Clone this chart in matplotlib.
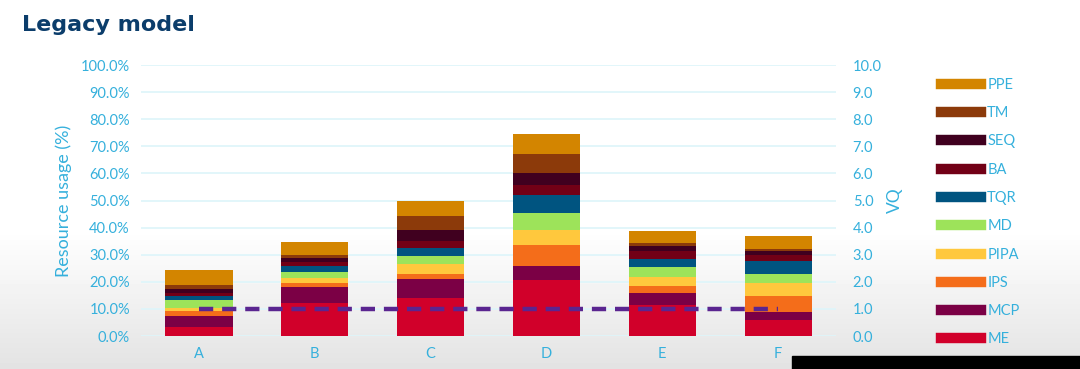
import matplotlib.pyplot as plt
import numpy as np
from matplotlib.lines import Line2D
from matplotlib.patches import Rectangle

# categories and stacked resource usage (%) per component, bottom to top
categories = ['A', 'B', 'C', 'D', 'E', 'F']
me = [3.4, 12.1, 14.1, 20.7, 11.4, 5.9]
mcp = [3.9, 5.9, 7.1, 5.2, 4.6, 3.1]
ips = [1.8, 1.5, 1.8, 7.7, 2.6, 5.9]
pipa = [1.4, 2.0, 3.7, 5.5, 3.1, 4.6]
md = [2.7, 2.2, 2.8, 6.4, 3.6, 3.4]
tqr = [1.6, 2.3, 3.0, 6.5, 3.2, 4.6]
ba = [1.2, 1.2, 2.6, 3.7, 2.7, 2.5]
seq = [1.2, 1.6, 4.2, 4.3, 2.1, 1.2]
tm = [1.8, 1.2, 4.9, 7.0, 1.2, 1.0]
ppe = [5.5, 4.8, 5.5, 7.7, 4.4, 4.8]
# VQ line on the right axis
vq = [1.0, 1.0, 1.0, 1.0, 1.0, 1.0]

series_names = ['ME', 'MCP', 'IPS', 'PIPA', 'MD', 'TQR', 'BA', 'SEQ', 'TM', 'PPE']
series_vals = [me, mcp, ips, pipa, md, tqr, ba, seq, tm, ppe]
series_colors = ['#D1002A', '#7B0045', '#F46D1A', '#FFC83D', '#9DE35A',
                 '#005480', '#720016', '#40001F', '#8C3A0A', '#D38500']

txtcol = '#35B0DC'
plt.rcParams['font.family'] = ['Lato', 'DejaVu Sans']

fig = plt.figure(figsize=(10.8, 3.69), dpi=100)

# light grey video-capture gradient in the background
bg = fig.add_axes([0, 0, 1, 1], zorder=-10)
grad = np.concatenate([np.ones(230), np.linspace(1.0, 0.89, 139)])
bg.imshow(grad[:, None], aspect='auto', cmap='gray', vmin=0, vmax=1,
          extent=[0, 1, 0, 1])
bg.add_patch(Rectangle((792 / 1080, 0), 288 / 1080, 13 / 369, color='black'))
bg.set_xlim(0, 1)
bg.set_ylim(0, 1)
bg.axis('off')

ax = fig.add_axes([0.1306, 0.0894, 0.6435, 0.7344])
ax.patch.set_alpha(0)
x = np.arange(len(categories))
bottom = np.zeros(len(categories))
for name, vals, col in zip(series_names, series_vals, series_colors):
    ax.bar(x, vals, 0.58, bottom=bottom, color=col, label=name, zorder=3)
    bottom += np.array(vals)

ax.set_xlim(-0.5, len(categories) - 0.5)
ax.set_ylim(0, 100)
ax.set_yticks(np.arange(0, 101, 10))
ax.set_yticklabels(['{:.1f}%'.format(v) for v in np.arange(0, 101, 10)])
ax.set_xticks(x)
ax.set_xticklabels(categories)
ax.grid(axis='y', color='#DDF5FA', linewidth=1.2, zorder=0)
for s in ax.spines.values():
    s.set_visible(False)
ax.tick_params(length=0, colors=txtcol, labelsize=10.5, pad=8)
ax.set_ylabel('Resource usage (%)', color=txtcol, fontsize=13, labelpad=6)

ax2 = ax.twinx()
ax2.plot(x, vq, color='#5A2590', linewidth=3.2, linestyle=(0, (3.2, 2)),
         zorder=5)
ax2.set_ylim(0, 10)
ax2.set_yticks(np.arange(0, 11, 1))
ax2.set_yticklabels(['{:.1f}'.format(v) for v in np.arange(0, 11, 1)])
for s in ax2.spines.values():
    s.set_visible(False)
ax2.tick_params(length=0, colors=txtcol, labelsize=10.5, pad=12)
ax2.set_ylabel('VQ', color=txtcol, fontsize=12.5, labelpad=4)

handles = [Line2D([0], [0], color=c, linewidth=7.5) for c in series_colors]
fig.legend(handles[::-1], series_names[::-1], loc='upper left',
           bbox_to_anchor=(0.8715, 0.789), frameon=False, fontsize=10.5,
           handlelength=2.7, labelspacing=0.98, handletextpad=0.45,
           borderpad=0, borderaxespad=0, labelcolor=txtcol)

fig.text(0.02, 0.932, 'Legacy model', fontsize=16, fontweight='bold',
         family='DejaVu Sans', color='#0B3D6B', va='center', ha='left')

fig.savefig('out.png', dpi=100)
